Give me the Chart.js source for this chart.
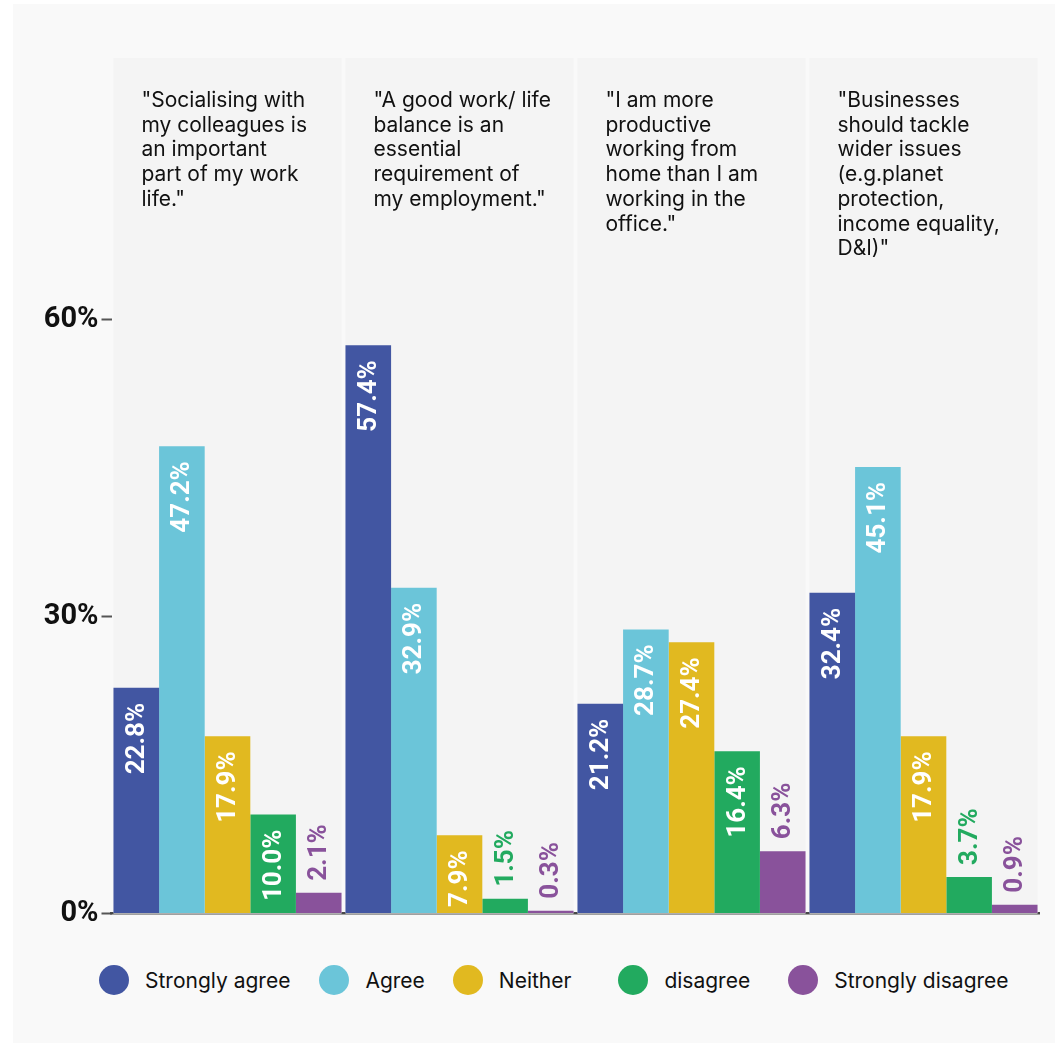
<!DOCTYPE html>
<html><head><meta charset="utf-8">
<script src="https://cdn.jsdelivr.net/npm/chart.js@4.4.0/dist/chart.umd.min.js"></script>
<style>
html,body{margin:0;padding:0;background:#fff;}
#panel{position:absolute;left:13px;top:4px;width:1042px;height:1039px;background:#f9f9f9;}
#c{position:absolute;left:0;top:0;}
#legend{position:absolute;left:86px;top:956px;width:940px;height:40px;display:flex;justify-content:flex-start;align-items:center;font-family:Inter,sans-serif;font-size:21px;color:#111;}
.item{display:flex;align-items:center;white-space:nowrap;}
.item:nth-child(1){margin-right:29px;}
.item:nth-child(2){margin-right:28px;}
.item:nth-child(3){margin-right:47px;}
.item:nth-child(4){margin-right:38px;}
.dot{width:30px;height:30px;border-radius:50%;margin-right:16px;flex:none;}
</style></head>
<body>
<div id="panel">
  <canvas id="c" width="1042" height="930"></canvas>
  <div id="legend"></div>
</div>
<script>
// ---- data ----
const categories = [
  ['"Socialising with', 'my colleagues is', 'an important', 'part of my work', 'life."'],
  ['"A good work/ life', 'balance is an', 'essential', 'requirement of', 'my employment."'],
  ['"I am more', 'productive', 'working from', 'home than I am', 'working in the', 'office."'],
  ['"Businesses', 'should tackle', 'wider issues', '(e.g.planet', 'protection,', 'income equality,', 'D&I)"']
];
const seriesNames = ['Strongly agree', 'Agree', 'Neither', 'disagree', 'Strongly disagree'];
const stronglyAgree = [22.8, 57.4, 21.2, 32.4];
const agree = [47.2, 32.9, 28.7, 45.1];
const neither = [17.9, 7.9, 27.4, 17.9];
const disagree = [10.0, 1.5, 16.4, 3.7];
const stronglyDisagree = [2.1, 0.3, 6.3, 0.9];
const yTicks = [0, 30, 60];
const colors = ['#4256a2', '#6bc5d9', '#e1b920', '#22aa5f', '#89529b'];

const seriesValues = [stronglyAgree, agree, neither, disagree, stronglyDisagree];

// legend (HTML)
const lg = document.getElementById('legend');
seriesNames.forEach((n, i) => {
  const it = document.createElement('div'); it.className = 'item';
  const d = document.createElement('span'); d.className = 'dot'; d.style.background = colors[i];
  const t = document.createElement('span'); t.textContent = n;
  it.appendChild(d); it.appendChild(t); lg.appendChild(it);
});

const columnBg = {
  id: 'columnBg',
  beforeDatasetsDraw(chart) {
    const ctx = chart.ctx, area = chart.chartArea;
    const first = chart.getDatasetMeta(0), last = chart.getDatasetMeta(chart.data.datasets.length - 1);
    ctx.save();
    ctx.fillStyle = '#f4f4f4';
    first.data.forEach((b, i) => {
      const l = last.data[i];
      const x0 = b.x - b.width / 2, x1 = l.x + l.width / 2;
      ctx.fillRect(x0, area.top, x1 - x0, area.bottom - area.top);
    });
    // headers
    ctx.fillStyle = '#111';
    ctx.font = '21px Inter, sans-serif';
    ctx.textAlign = 'left';
    ctx.textBaseline = 'alphabetic';
    first.data.forEach((b, i) => {
      const x0 = b.x - b.width / 2 + 28;
      categories[i].forEach((line, k) => {
        ctx.fillText(line, x0, area.top + 49 + k * 24.7);
      });
    });
    ctx.restore();
  }
};

const barLabels = {
  id: 'barLabels',
  afterDatasetsDraw(chart) {
    const ctx = chart.ctx;
    ctx.save();
    ctx.font = 'bold 26px Roboto, sans-serif';
    ctx.textBaseline = 'middle';
    chart.data.datasets.forEach((ds, di) => {
      const meta = chart.getDatasetMeta(di);
      meta.data.forEach((bar, i) => {
        const v = ds.data[i];
        const txt = v.toFixed(1) + '%';
        ctx.save();
        if (v >= 7) {
          ctx.translate(bar.x, bar.y + 15);
          ctx.rotate(-Math.PI / 2);
          ctx.textAlign = 'right';
          ctx.fillStyle = '#ffffff';
        } else {
          ctx.translate(bar.x, bar.y - 12);
          ctx.rotate(-Math.PI / 2);
          ctx.textAlign = 'left';
          ctx.fillStyle = ds.backgroundColor;
        }
        ctx.fillText(txt, 0, 1);
        ctx.restore();
      });
    });
    ctx.restore();
  }
};

new Chart(document.getElementById('c'), {
  type: 'bar',
  data: {
    labels: categories.map(c => c.join(' ')),
    datasets: seriesNames.map((n, i) => ({
      label: n,
      data: seriesValues[i],
      backgroundColor: colors[i],
      borderWidth: 0,
      barPercentage: 1.0,
      categoryPercentage: 0.983
    }))
  },
  options: {
    responsive: false,
    animation: false,
    layout: { padding: { top: 54, right: 15.5, bottom: 18, left: 0 } },
    plugins: { legend: { display: false }, tooltip: { enabled: false } },
    scales: {
      x: {
        grid: { display: false, drawTicks: false },
        ticks: { display: false },
        border: { display: true, color: '#484848', width: 2.5 },
        afterFit(s) { s.height = 0; }
      },
      y: {
        min: 0,
        max: 86.4,
        afterBuildTicks(s) { s.ticks = yTicks.map(v => ({ value: v })); },
        afterFit(s) { s.width = 98.5; },
        grid: { display: true, drawOnChartArea: false, drawTicks: true, tickLength: 10, tickColor: '#555', tickWidth: 2 },
        border: { display: false },
        ticks: {
          padding: 3,
          color: '#111',
          font: { family: 'Roboto', weight: 'bold', size: 29 },
          callback: v => v + '%'
        }
      }
    }
  },
  plugins: [columnBg, barLabels]
});
</script>
</body></html>
